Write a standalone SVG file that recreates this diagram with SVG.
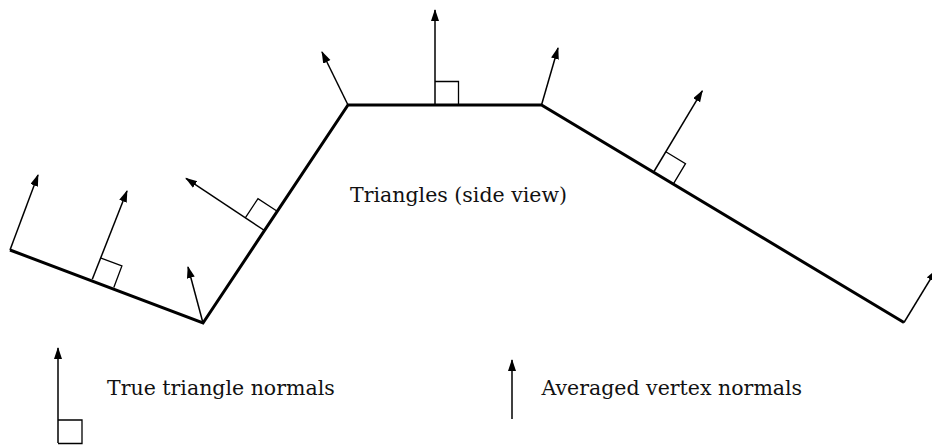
<svg xmlns="http://www.w3.org/2000/svg" width="932" height="445" viewBox="0 0 932 445">
<style>
.surf{fill:none;stroke:#000;stroke-width:3;stroke-linejoin:miter}
.arr{fill:none;stroke:#000;stroke-width:1.5;marker-end:url(#ah)}
.sq{fill:none;stroke:#000;stroke-width:1.3}
.lbl{font-family:"DejaVu Serif","Liberation Serif",serif;font-size:20.5px;fill:#111}
</style>
<defs>
<marker id="ah" markerUnits="userSpaceOnUse" markerWidth="13" markerHeight="9" refX="11" refY="4" orient="auto">
<path d="M0,0 L12,4 L0,8 z" fill="#000"/>
</marker>
</defs>
<rect width="932" height="445" fill="#fff"/>
<g id="triangles">
<polyline class="surf" points="10,250 203,323 348,105 541.5,105 904,322.5"/>
</g>
<g id="connectors">
<line class="arr" x1="10" y1="250" x2="38" y2="175"/>
<line class="arr" x1="92.3" y1="279.3" x2="127" y2="191"/>
<line class="arr" x1="203" y1="323" x2="188" y2="267"/>
<line class="arr" x1="264.5" y1="230.5" x2="186" y2="178.4"/>
<line class="arr" x1="348" y1="105" x2="322" y2="52"/>
<line class="arr" x1="435" y1="105" x2="435" y2="10"/>
<line class="arr" x1="541.5" y1="105" x2="558" y2="48"/>
<line class="arr" x1="654" y1="171.5" x2="702.3" y2="90.8"/>
<line class="arr" x1="904" y1="322.5" x2="936" y2="270"/>
<line class="arr" x1="58" y1="443" x2="58" y2="348"/>
<line class="arr" x1="512" y1="419" x2="512" y2="360"/>
</g>
<g id="right-angles">
<polyline class="sq" points="100.4,257.8 121.9,265.9 113.8,287.4"/>
<polyline class="sq" points="245.3,217.8 258,198.6 277.2,211.3"/>
<polyline class="sq" points="435,81.5 458.5,81.5 458.5,105"/>
<polyline class="sq" points="665.8,151.8 685.5,163.6 673.7,183.3"/>
<polyline class="sq" points="58,420 82,420 82,443.5 58,443.5"/>
</g>
<g id="labels">
<text class="lbl" x="350" y="202">Triangles (side view)</text>
<text class="lbl" x="107" y="395">True triangle normals</text>
<text class="lbl" x="541.5" y="395">Averaged vertex normals</text>
</g>
</svg>
